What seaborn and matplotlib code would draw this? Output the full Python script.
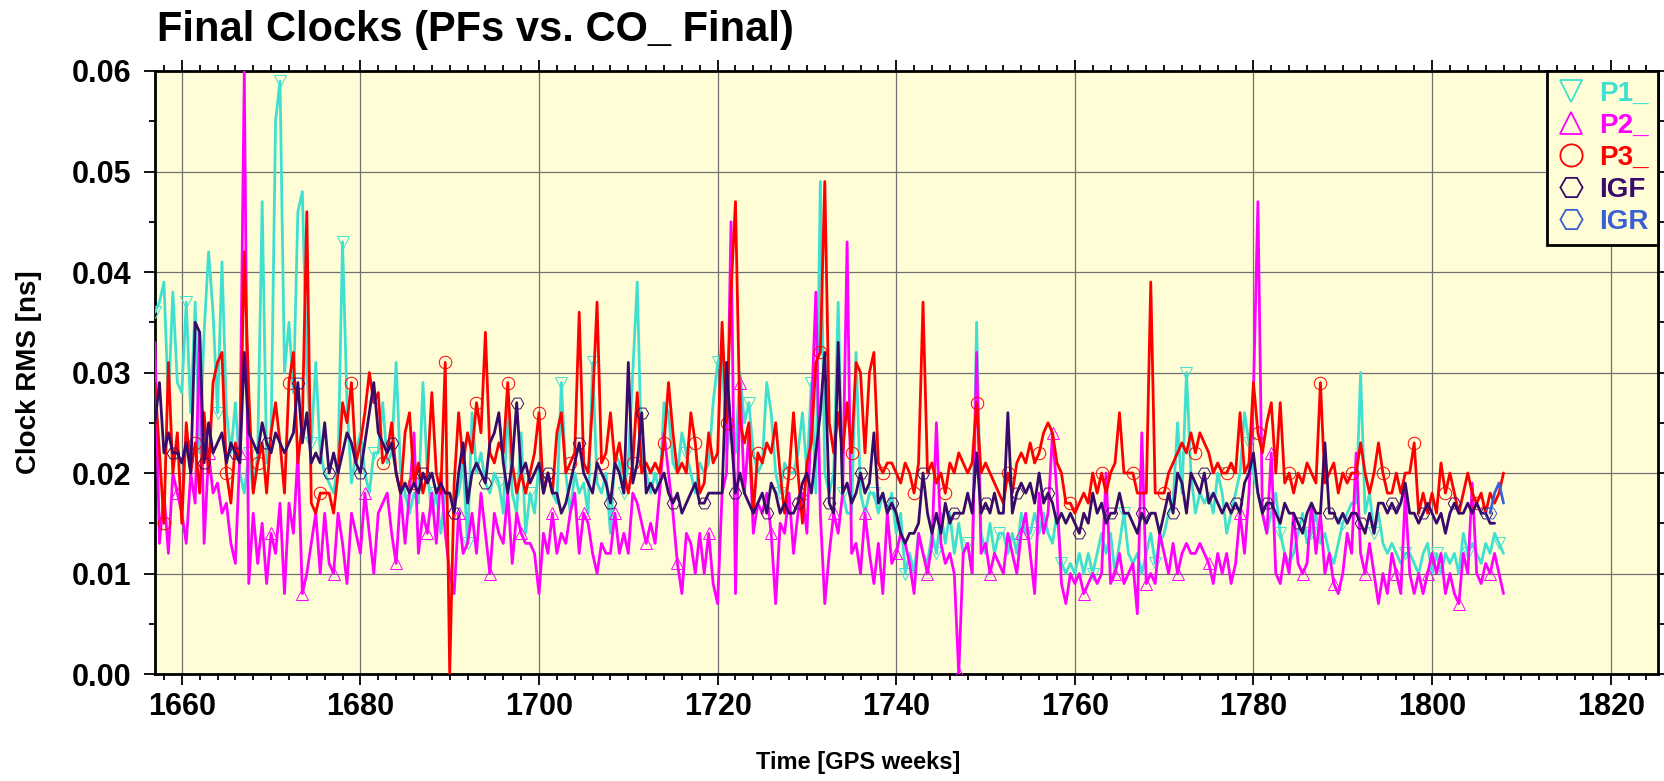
import numpy as np
import matplotlib
matplotlib.use("Agg")
import matplotlib.pyplot as plt
import seaborn as sns
from matplotlib.lines import Line2D
from matplotlib.ticker import MultipleLocator, FormatStrFormatter

# Daily solutions sampled every half GPS week, starting at week 1657.0
START_WEEK = 1657.0
STEP_WEEK = 0.5

p1 = [
    .036, .037, .039, .027, .038, .029, .028, .037, .026, .037, .022, .034, .042, .036, .026, .041, .026, .022,
    .027, .020, .018, .022, .018, .022, .047, .021, .024, .055, .059, .030, .035, .028, .046, .048, .030,
    .023, .031, .022, .020, .019, .018, .021, .043, .027, .019, .022, .024, .020, .018, .022, .022, .027,
    .021, .022, .031, .020, .018, .016, .018, .017, .029, .020, .016, .018, .014, .018,
    .018, .017, .018, .021, .013, .026, .020, .022, .019, .018, .020, .019, .016, .027, .018, .016, .024,
    .014, .018, .016, .021, .018, .020, .018, .017, .029, .020, .016, .020, .018, .019, .016, .031, .019,
    .018, .020, .014, .022, .021, .018, .021, .030, .039, .021, .020, .018, .020, .018, .027, .026, .021,
    .020, .024, .022, .020, .018, .021, .020, .021, .027, .031, .032, .022, .025, .022, .030, .025, .027,
    .022, .020, .021, .029, .026, .020, .018, .021, .020, .020, .022, .026, .020, .029, .018, .049, .020,
    .018, .020, .037, .018, .016, .016, .032, .018, .016, .018, .018, .016, .018, .016, .018,
    .014, .016, .010, .012, .010, .014, .012, .011, .014, .012, .016, .013, .016, .012, .015, .012, .013,
    .010, .035, .014, .012, .015, .012, .014, .014, .012, .014, .012, .016, .014, .014, .016, .014, .016,
    .014, .013,
    .016, .011, .010, .011, .010, .012, .010, .012, .010, .012, .014, .012, .014, .010, .013, .016, .012,
    .011, .012, .010, .012, .014, .011, .013, .014, .016, .017, .025, .018, .030, .020, .016, .018, .017,
    .018, .016, .020, .018, .014, .016, .018, .020, .026, .023, .020, .018, .016, .014, .016, .018, .014,
    .012, .011, .012, .014, .016, .013, .014, .016, .013, .014, .012, .011, .013, .015, .016, .017,
    .017, .030, .016, .018, .014, .016, .013, .012, .013, .012, .011, .012, .012, .011, .010, .012, .013,
    .010, .012, .010, .012, .011, .012, .010, .014, .012, .013, .012, .011, .013, .012, .014, .013, .012,
]

p2 = [
    .033, .013, .018, .012, .020, .018, .016, .013, .020, .017, .034, .013, .022, .018, .019, .016, .017, .013,
    .011, .022, .060, .009, .016, .011, .015, .009, .014, .012, .017, .008, .017, .014, .022, .008, .010,
    .013, .016, .010, .016, .011, .010, .016, .013, .009, .016, .014, .012, .018, .014, .010, .016, .017,
    .018, .014, .011, .018, .013, .018, .024, .012, .016, .014, .018, .013, .020, .014,
    .010, .008, .016, .012, .013, .016, .012, .018, .014, .010, .016, .014, .013, .018, .011, .016, .014,
    .013, .013, .012, .008, .014, .012, .016, .012, .014, .013, .016, .018, .012, .016, .015, .012, .010,
    .013, .012, .012, .016, .012, .014, .012, .018, .017, .015, .013, .015, .013, .018, .024, .020, .016,
    .011, .008, .014, .013, .010, .014, .010, .014, .009, .007, .018, .020, .045, .008, .029, .018, .024,
    .014, .017, .016, .018, .014, .007, .015, .014, .018, .012, .016, .018, .014, .026, .038, .016, .007,
    .012, .016, .014, .018, .043, .012, .013, .010, .016, .012, .009, .013, .008, .016, .011,
    .012, .014, .013, .011, .008, .014, .012, .010, .013, .025, .013, .011, .012, .010, .000, .012, .013,
    .010, .032, .012, .013, .010, .012, .011, .010, .014, .012, .010, .014, .016, .012, .008, .018, .014,
    .016, .024,
    .018, .009, .007, .010, .009, .010, .008, .009, .010, .009, .010, .020, .009, .010, .012, .009, .010,
    .011, .006, .024, .009, .010, .009, .014, .012, .010, .013, .010, .012, .013, .012, .012, .013, .012,
    .011, .009, .012, .010, .012, .009, .011, .016, .012, .018, .028, .047, .016, .014, .022, .010, .009,
    .012, .010, .016, .011, .010, .011, .017, .012, .016, .010, .012, .009, .008, .010, .014, .012,
    .022, .012, .010, .013, .010, .007, .010, .008, .012, .010, .008, .018, .010, .008, .010, .008, .010,
    .012, .010, .012, .008, .010, .008, .007, .012, .010, .019, .010, .009, .011, .010, .012, .010, .008,
]

p3 = [
    .029, .022, .015, .031, .020, .024, .015, .025, .020, .023, .018, .026, .020, .029, .031, .032, .020, .017,
    .023, .021, .042, .028, .018, .021, .023, .018, .024, .027, .023, .018, .029, .032, .021, .025, .046,
    .017, .016, .018, .018, .018, .016, .020, .027, .025, .029, .021, .023, .026, .030, .027, .028, .021,
    .022, .025, .020, .018, .024, .026, .019, .021, .018, .020, .028, .020, .018, .031,
    .000, .019, .026, .021, .024, .022, .027, .024, .034, .022, .021, .023, .022, .029, .021, .018, .020,
    .018, .020, .022, .026, .018, .020, .018, .024, .026, .020, .021, .022, .036, .021, .020, .027, .037,
    .021, .022, .026, .021, .023, .020, .018, .021, .028, .020, .021, .020, .021, .020, .023, .029, .024,
    .020, .021, .020, .026, .023, .018, .019, .024, .021, .022, .035, .025, .038, .047, .025, .023, .025,
    .016, .022, .021, .023, .022, .025, .020, .016, .020, .026, .020, .015, .021, .023, .031, .032, .049,
    .025, .022, .026, .022, .027, .022, .031, .030, .022, .030, .032, .021, .020, .021, .021,
    .020, .019, .021, .020, .018, .021, .037, .020, .021, .019, .020, .018, .021, .020, .022, .021, .020,
    .021, .027, .020, .021, .020, .019, .018, .017, .020, .018, .021, .022, .021, .023, .021, .022, .024,
    .025, .024,
    .021, .020, .017, .017, .016, .017, .018, .017, .020, .018, .020, .018, .020, .021, .026, .020, .020,
    .020, .018, .018, .018, .039, .018, .018, .018, .020, .021, .022, .023, .022, .024, .022, .024, .023,
    .022, .020, .021, .020, .020, .021, .020, .026, .020, .021, .029, .024, .022, .025, .027, .020, .027,
    .019, .020, .018, .020, .019, .021, .020, .019, .029, .019, .020, .021, .018, .020, .019, .020,
    .020, .023, .020, .018, .020, .023, .020, .018, .018, .020, .018, .020, .020, .023, .016, .018, .016,
    .018, .016, .021, .018, .020, .018, .016, .018, .020, .018, .017, .018, .016, .018, .017, .018, .020,
]

igf = [
    .025, .029, .022, .024, .022, .022, .021, .023, .020, .035, .034, .021, .025, .022, .023, .024, .021, .023,
    .022, .021, .032, .024, .023, .022, .025, .023, .022, .024, .023, .022, .023, .024, .029, .023, .026,
    .021, .022, .021, .025, .020, .022, .020, .022, .024, .023, .021, .020, .023, .026, .029, .024, .023,
    .022, .023, .020, .018, .019, .018, .019, .018, .020, .019, .020, .018, .019, .018,
    .018, .016, .020, .023, .017, .020, .021, .020, .019, .023, .024, .026, .021, .018, .021, .027, .020,
    .021, .019, .020, .021, .018, .020, .018, .018, .016, .017, .019, .021, .023, .020, .019, .018, .021,
    .020, .019, .017, .021, .020, .018, .031, .019, .021, .026, .018, .019, .018, .019, .020, .018, .017,
    .018, .016, .017, .018, .019, .017, .017, .018, .018, .018, .018, .031, .024, .018, .020, .018, .017,
    .016, .017, .018, .016, .019, .018, .016, .017, .016, .016, .017, .019, .020, .018, .022, .026, .032,
    .017, .016, .033, .018, .019, .017, .018, .020, .018, .019, .024, .017, .018, .016, .017,
    .016, .014, .013, .014, .014, .015, .020, .016, .014, .016, .014, .017, .015, .016, .016, .016, .018,
    .016, .022, .016, .017, .016, .018, .016, .016, .026, .016, .018, .019, .018, .019, .017, .020, .017,
    .018, .017,
    .015, .016, .015, .016, .015, .014, .016, .015, .018, .016, .017, .015, .016, .016, .018, .016, .016,
    .015, .014, .016, .015, .016, .016, .014, .016, .018, .016, .020, .019, .016, .020, .019, .018, .020,
    .017, .018, .017, .016, .017, .016, .017, .016, .019, .020, .022, .018, .016, .017, .017, .016, .015,
    .017, .016, .016, .015, .014, .016, .017, .016, .016, .023, .016, .016, .015, .016, .015, .016,
    .016, .015, .014, .016, .014, .017, .017, .016, .017, .016, .017, .019, .016, .016, .015, .016, .017,
    .016, .015, .016, .014, .016, .017, .016, .016, .017, .016, .017, .016, .016, .015, .015,
]

# IGR only covers the last days of the period
IGR_START_WEEK = 1806.5
igr = [.016, .018, .019, .017]

labels = ["P1_", "P2_", "P3_", "IGF", "IGR"]
colors = ["#40e0d0", "#ff00ff", "#ff0000", "#380a6c", "#3a5fd4"]
markers = ["v", "^", "o", "H", "H"]
mark_offsets = [0, 5, 2, 4, 0]
values = [p1, p2, p3, igf, igr]
starts = [START_WEEK, START_WEEK, START_WEEK, START_WEEK, IGR_START_WEEK]

BG = "#fffdd6"

sns.set_style("ticks")
plt.rcParams["font.family"] = ["Liberation Sans", "DejaVu Sans"]
plt.rcParams["font.weight"] = "bold"
plt.rcParams["text.color"] = "black"
plt.rcParams["xtick.color"] = "black"
plt.rcParams["ytick.color"] = "black"
plt.rcParams["axes.labelcolor"] = "black"

fig = plt.figure(figsize=(16.64, 7.81), dpi=100)
ax = fig.add_axes([155 / 1664, 1 - 674 / 781, 1503 / 1664, 603 / 781])
ax.set_facecolor(BG)

for name, vals, x0, col, mk, off in zip(labels, values, starts, colors, markers, mark_offsets):
    weeks = x0 + STEP_WEEK * np.arange(len(vals))
    sns.lineplot(
        x=weeks, y=vals, ax=ax, color=col, linewidth=2.0,
        marker=mk, markersize=9, markerfacecolor="none",
        markeredgecolor=col, markeredgewidth=0.7, markevery=(off, 7),
        estimator=None, sort=False, legend=False, zorder=3,
    )

ax.set_xlim(1657.0, 1825.3)
ax.set_ylim(0.0, 0.06)
ax.xaxis.set_major_locator(MultipleLocator(20))
ax.xaxis.set_minor_locator(MultipleLocator(2))
ax.yaxis.set_major_locator(MultipleLocator(0.01))
ax.yaxis.set_minor_locator(MultipleLocator(0.005))
ax.yaxis.set_major_formatter(FormatStrFormatter("%.2f"))

ax.set_axisbelow(True)
ax.grid(True, which="major", color="#707070", linewidth=0.9)
ax.tick_params(which="both", direction="out", top=True, right=True, width=1.3, color="black")
ax.tick_params(which="major", length=8)
ax.tick_params(which="minor", length=4)
ax.tick_params(axis="x", which="major", labelsize=22, pad=5)
ax.tick_params(axis="y", which="major", labelsize=22, pad=9)
for lbl in ax.get_xticklabels() + ax.get_yticklabels():
    lbl.set_fontweight("bold")
for sp in ax.spines.values():
    sp.set_linewidth(2)
    sp.set_color("black")

ax.set_xlabel("")
ax.set_ylabel("")
fig.text(858 / 1664, 1 - 762 / 781, "Time [GPS weeks]", ha="center", va="center",
         fontsize=17, fontweight="bold")
fig.text(29 / 1664, 1 - 372 / 781, "Clock RMS [ns]", ha="center", va="center",
         rotation=90, fontsize=20, fontweight="bold")
fig.text(157 / 1664, 1 - 41 / 781, "Final Clocks (PFs vs. CO_ Final)", ha="left",
         va="baseline", fontsize=30, fontweight="bold")

handles = [
    Line2D([], [], linestyle="none", marker=mk, markersize=16, markerfacecolor="none",
           markeredgecolor=col, markeredgewidth=1.3)
    for mk, col in zip(markers, colors)
]
leg = ax.legend(handles, labels, loc="upper right", borderaxespad=0, frameon=True,
                fancybox=False, edgecolor="black", facecolor=BG, framealpha=1,
                prop={"size": 20, "weight": "bold"}, handlelength=1.0,
                handletextpad=0.5, labelspacing=0.22, borderpad=0.35)
leg.get_frame().set_linewidth(2)
leg.set_zorder(5)
for txt, col in zip(leg.get_texts(), colors):
    txt.set_color(col)

fig.savefig("out.png", dpi=100, facecolor="white")
